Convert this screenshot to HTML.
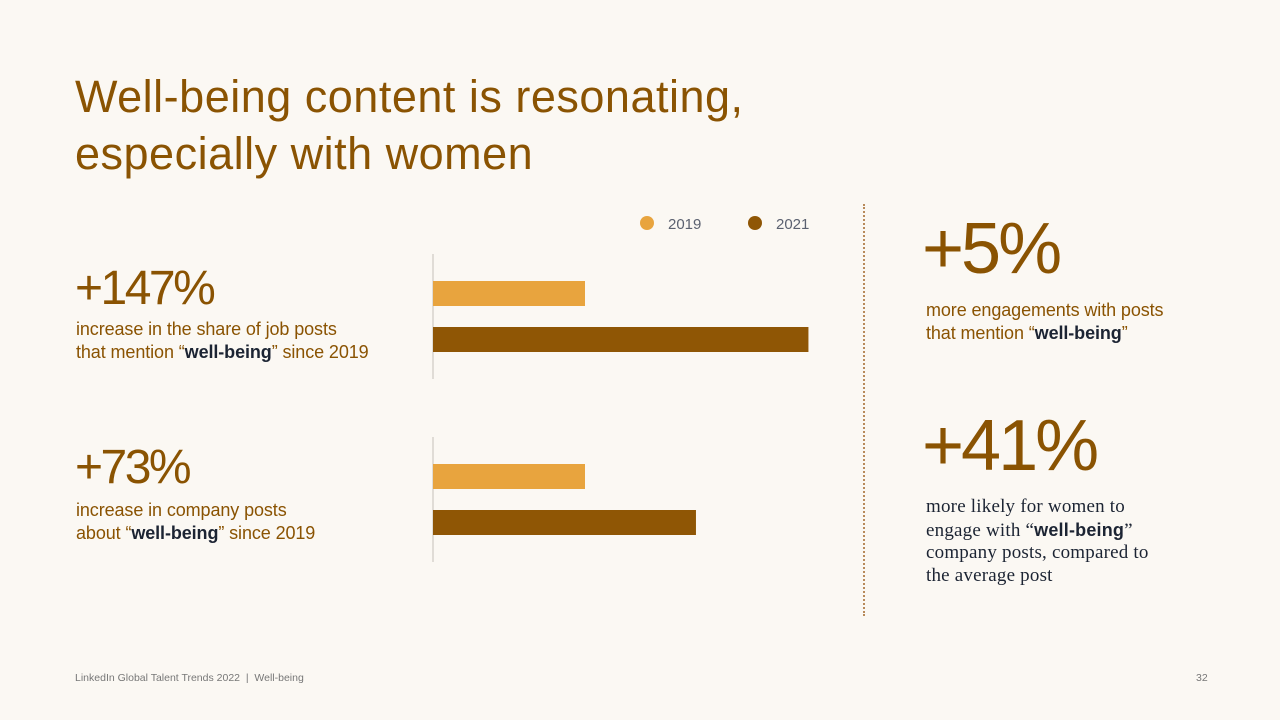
<!DOCTYPE html>
<html><head><meta charset="utf-8"><style>
body{margin:0;width:1280px;height:720px;background:#fbf8f3;font-family:"Liberation Sans",sans-serif;position:relative;overflow:hidden}
.a{position:absolute}
.t{color:#8a5302;font-size:45px;line-height:57px;left:75px;top:68px;letter-spacing:0.5px}
.big{color:#8a5302;font-size:48px;line-height:50px;letter-spacing:-2.5px}
.huge{color:#8a5302;font-size:72px;line-height:72px;letter-spacing:-3px}
.d{color:#8a5302;font-size:18px;line-height:23px;letter-spacing:-0.1px}
.d b{color:#1c2433}
.s{color:#1c2433;font-family:"Liberation Serif",serif;font-size:19px;line-height:22.5px;letter-spacing:0.2px}
.s b{font-family:"Liberation Sans",sans-serif;font-size:18px}
.f{color:#777;font-size:10.5px}
</style></head><body>
<div class="a t">Well-being content is resonating,<br>especially with women</div>
<div class="a big" style="left:75px;top:264px">+147%</div>
<div class="a d" style="left:76px;top:318px">increase in the share of job posts<br>that mention “<b>well-being</b>” since 2019</div>
<div class="a big" style="left:75px;top:443px">+73%</div>
<div class="a d" style="left:76px;top:499px">increase in company posts<br>about “<b>well-being</b>” since 2019</div>
<svg class="a" style="left:0;top:0" width="1280" height="720" id="chart"></svg>
<div class="a" style="left:863px;top:204px;height:412px;border-left:2px dotted #b88a5a"></div>
<div class="a huge" style="left:922px;top:213px">+5%</div>
<div class="a d" style="left:926px;top:299px">more engagements with posts<br>that mention “<b style="color:#1c2433">well-being</b>”</div>
<div class="a huge" style="left:922px;top:410px">+41%</div>
<div class="a s" style="left:926px;top:496px">more likely for women to<br>engage with “<b>well-being</b>”<br>company posts, compared to<br>the average post</div>
<div class="a f" style="left:75px;top:672px">LinkedIn Global Talent Trends 2022 &nbsp;| &nbsp;Well-being</div>
<div class="a f" style="left:1196px;top:672px">32</div>
<script>
const categories=["job-posts","company-posts"];
const series2019=[1,1];
const series2021=[2.47,1.73];
const legendLabels=["2019","2021"];
const colors=["#e8a43e","#8f5605"];
const svg=document.getElementById('chart');
const NS='http://www.w3.org/2000/svg';
const x0=433,scale=152;
function xs(v){return v*scale;}
const groupTop=[254,437];
categories.forEach((c,i)=>{
  const g=groupTop[i];
  const ax=document.createElementNS(NS,'line');
  
  
  ax.setAttribute('x1',x0);ax.setAttribute('x2',x0);ax.setAttribute('y1',g);ax.setAttribute('y2',g+125);
  ax.setAttribute('stroke','#d6d2cc');ax.setAttribute('stroke-width','1.5');svg.appendChild(ax);
  [series2019[i],series2021[i]].forEach((v,j)=>{
    const r=document.createElementNS(NS,'rect');
    
    
    r.setAttribute('x',x0);r.setAttribute('y',g+27+j*46);r.setAttribute('width',xs(v));r.setAttribute('height',25);
    r.setAttribute('fill',colors[j]);svg.appendChild(r);
  });
});
legendLabels.forEach((l,j)=>{
  const cx=647+j*108;
  const c=document.createElementNS(NS,'circle');
  
  
  c.setAttribute('cx',cx);c.setAttribute('cy',223);c.setAttribute('r',7);c.setAttribute('fill',colors[j]);svg.appendChild(c);
  const t=document.createElementNS(NS,'text');
  
  
  t.setAttribute('x',cx+21);t.setAttribute('y',229);t.setAttribute('font-size','15');t.setAttribute('fill','#5b6170');
  t.setAttribute('font-family','Liberation Sans, sans-serif');t.textContent=l;svg.appendChild(t);
});
</script>
</body></html>
